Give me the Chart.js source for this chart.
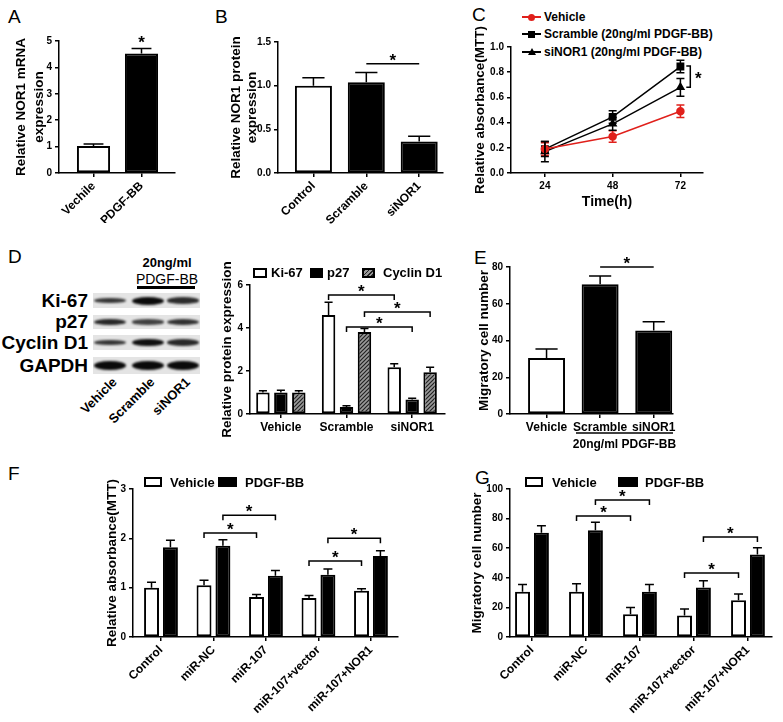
<!DOCTYPE html>
<html>
<head>
<meta charset="utf-8">
<script src="https://cdn.jsdelivr.net/npm/chart.js@4.4.1/dist/chart.umd.min.js"></script>
<style>
  body { margin: 0; width: 783px; height: 722px; position: relative; overflow: hidden; background: #fff;
         font-family: "Liberation Sans", Arial, sans-serif; color: #000; }
  canvas { position: absolute; }
  .abs { position: absolute; white-space: nowrap; }
  .letter { font-size: 19px; line-height: 19px; }
  .leg { font-weight: bold; font-size: 13px; line-height: 13px; }
  .box { position: absolute; box-sizing: border-box; border: 2px solid #000; }
  .hatch { background: repeating-linear-gradient(135deg, #222 0 1.2px, #9a9a9a 1.2px 3px); }
  .blotlab { position: absolute; font-weight: bold; font-size: 19px; line-height: 19px; text-align: right; width: 88px; left: 0; }
  .lane { position: absolute; font-weight: bold; font-size: 13px; line-height: 14px; transform-origin: 100% 50%; transform: rotate(-45deg); }
</style>
</head>
<body>

<!-- letras de panel -->
<div class="abs letter" style="left:8px;top:7px">A</div>
<div class="abs letter" style="left:215px;top:7px">B</div>
<div class="abs letter" style="left:472px;top:5px">C</div>
<div class="abs letter" style="left:8px;top:247px">D</div>
<div class="abs letter" style="left:474px;top:248px">E</div>
<div class="abs letter" style="left:8px;top:464px">F</div>
<div class="abs letter" style="left:475px;top:468px">G</div>

<!-- leyenda C -->
<div id="legC"></div>

<!-- blot D -->
<div class="abs" style="left:167px;top:255px;transform:translateX(-50%);font-weight:bold;font-size:13px">20ng/ml</div>
<div class="abs" style="left:167px;top:271px;transform:translateX(-50%);font-size:14px">PDGF-BB</div>
<div class="abs" style="left:137px;top:286px;width:58px;height:3px;background:#000"></div>
<div id="blot"></div>

<!-- leyenda D -->
<div class="box" style="left:253px;top:268px;width:14px;height:10px;background:#fff;z-index:2"></div>
<div class="abs leg" style="left:271px;top:266px;z-index:2">Ki-67</div>
<div class="box" style="left:310px;top:268px;width:13px;height:10px;background:#000;z-index:2"></div>
<div class="abs leg" style="left:327px;top:266px;z-index:2">p27</div>
<div class="box hatch" style="left:362px;top:268px;width:13px;height:10px;z-index:2"></div>
<div class="abs leg" style="left:383px;top:266px;z-index:2">Cyclin D1</div>

<!-- leyendas F y G -->
<div class="box" style="left:144px;top:477px;width:18px;height:10px;background:#fff;z-index:2"></div>
<div class="abs leg" style="left:170px;top:476px;z-index:2">Vehicle</div>
<div class="box" style="left:218px;top:477px;width:19px;height:10px;background:#000;z-index:2"></div>
<div class="abs leg" style="left:245px;top:476px;z-index:2">PDGF-BB</div>
<div class="box" style="left:525px;top:477px;width:18px;height:10px;background:#fff;z-index:2"></div>
<div class="abs leg" style="left:552px;top:476px;z-index:2">Vehicle</div>
<div class="box" style="left:618px;top:477px;width:20px;height:10px;background:#000;z-index:2"></div>
<div class="abs leg" style="left:645px;top:476px;z-index:2">PDGF-BB</div>

<script>
// ---- datos ----
// A
const aLabels = ["Vechile", "PDGF-BB"]
const aMean = [1.02, 4.53]
const aErr = [0.08, 0.19]
// B
const bLabels = ["Control", "Scramble", "siNOR1"]
const bMean = [1.0, 1.04, 0.36]
const bErr = [0.09, 0.11, 0.06]
// C
const cHours = [24, 48, 72]
const cVehicle = [0.19, 0.29, 0.49]
const cVehicleErr = [0.05, 0.045, 0.05]
const cScramble = [0.19, 0.445, 0.845]
const cScrambleErr = [0.06, 0.05, 0.05]
const cSiNOR1 = [0.17, 0.39, 0.68]
const cSiNOR1Err = [0.08, 0.05, 0.07]
// D
const dGroups = ["Vehicle", "Scramble", "siNOR1"]
const dKi67 = [1.0, 4.6, 2.18]
const dKi67Err = [0.08, 0.6, 0.16]
const dP27 = [1.0, 0.33, 0.68]
const dP27Err = [0.1, 0.05, 0.05]
const dCyclin = [1.0, 3.81, 1.94]
const dCyclinErr = [0.08, 0.17, 0.24]
const blotRows = ["Ki-67", "p27", "Cyclin D1", "GAPDH"]
const blotBands = [[0.55, 1.0, 0.65], [0.7, 0.45, 0.6], [0.55, 0.95, 0.7], [1.0, 1.0, 1.0]]
// E
const eLabels = ["Vehicle", "Scramble", "siNOR1"]
const eMean = [30.5, 70.6, 45.4]
const eErr = [4.9, 4.5, 4.8]
// F y G
const fgLabels = ["Control", "miR-NC", "miR-107", "miR-107+vector", "miR-107+NOR1"]
const fVehicle = [1.0, 1.05, 0.81, 0.79, 0.94]
const fVehicleErr = [0.11, 0.1, 0.05, 0.05, 0.04]
const fPdgf = [1.82, 1.85, 1.24, 1.26, 1.64]
const fPdgfErr = [0.14, 0.12, 0.11, 0.12, 0.11]
const gVehicle = [30.5, 30.5, 15.4, 14.5, 24.8]
const gVehicleErr = [5, 5.5, 4.6, 4.5, 4.2]
const gPdgf = [70.4, 72.2, 30.5, 33.4, 55.8]
const gPdgfErr = [4.7, 5.3, 5, 4.6, 4.5]

const FONT = '"Liberation Sans", Arial, sans-serif'
Chart.defaults.font.family = FONT
Chart.defaults.font.weight = "bold"
Chart.defaults.color = "#000"
Chart.defaults.animation = false
Chart.defaults.plugins.legend.display = false
Chart.defaults.plugins.tooltip.enabled = false

// barras de error
const errorBars = {
  id: "errorBars",
  afterDatasetsDraw(chart) {
    const ctx = chart.ctx
    const y = chart.scales.y
    const isLine = chart.config.type === "line"
    chart.data.datasets.forEach((ds, i) => {
      if (!ds.errors) return
      const meta = chart.getDatasetMeta(i)
      meta.data.forEach((el, j) => {
        const v = ds.data[j].y
        const e = ds.errors[j]
        const top = y.getPixelForValue(v + e)
        const cap = isLine ? 4 : Math.max(el.width * 0.3, 4)
        ctx.save()
        ctx.strokeStyle = isLine ? ds.borderColor : "#000"
        ctx.lineWidth = 1.5
        ctx.beginPath()
        ctx.moveTo(el.x, isLine ? y.getPixelForValue(v - e) : el.y)
        ctx.lineTo(el.x, top)
        ctx.moveTo(el.x - cap, top)
        ctx.lineTo(el.x + cap, top)
        if (isLine) {
          const bot = y.getPixelForValue(v - e)
          ctx.moveTo(el.x - cap, bot)
          ctx.lineTo(el.x + cap, bot)
        }
        ctx.stroke()
        ctx.restore()
      })
    })
  },
}

// marcas de significancia
const sigPlugin = {
  id: "sig",
  afterDraw(chart, args, opts) {
    const { ctx } = chart
    const { x, y } = chart.scales
    const pos = (p) => chart.getDatasetMeta(p[1]).data[p[0]].x
    const star = (px, py) => ctx.fillText("*", px, py)
    ctx.save()
    ctx.strokeStyle = "#000"
    ctx.fillStyle = "#000"
    ctx.lineWidth = 1.5
    ctx.font = "bold 17px " + FONT
    ctx.textAlign = "center"
    ctx.textBaseline = "middle"
    for (const m of opts.marks || []) {
      if (m.kind === "star") {
        star(pos(m.a), y.getPixelForValue(m.y) + 4)
      } else if (m.kind === "vbracket") {
        const px = x.getPixelForValue(m.x)
        const y1 = y.getPixelForValue(m.y1)
        const y2 = y.getPixelForValue(m.y2)
        ctx.beginPath()
        ctx.moveTo(px - 4, y1); ctx.lineTo(px, y1); ctx.lineTo(px, y2); ctx.lineTo(px - 4, y2)
        ctx.stroke()
        star(px + 8, (y1 + y2) / 2 + 3)
      } else if (m.kind === "under") {
        const x1 = x.getPixelForValue(m.x1)
        const x2 = x.getPixelForValue(m.x2)
        const py = chart.chartArea.bottom + m.dy
        ctx.beginPath(); ctx.moveTo(x1, py); ctx.lineTo(x2, py); ctx.stroke()
        ctx.font = "bold 12px " + FONT
        ctx.fillText(m.text, (x1 + x2) / 2, py + 12)
        ctx.font = "bold 17px " + FONT
      } else {
        const x1 = pos(m.a)
        const x2 = pos(m.b)
        const py = y.getPixelForValue(m.y)
        ctx.beginPath()
        if (m.tick) { ctx.moveTo(x1, py + 5); ctx.lineTo(x1, py); ctx.lineTo(x2, py); ctx.lineTo(x2, py + 5) }
        else { ctx.moveTo(x1, py); ctx.lineTo(x2, py) }
        ctx.stroke()
        star((x1 + x2) / 2, py - 3)
      }
    }
    ctx.restore()
  },
}

// título del eje y sin compresión (x en coordenadas de página)
const yTitle = {
  id: "yTitle",
  afterDraw(chart, args, opts) {
    if (!opts.lines) return
    const { ctx, chartArea } = chart
    const cx = opts.x - chart.canvas.offsetLeft
    const cy = (chartArea.top + chartArea.bottom) / 2
    ctx.save()
    ctx.font = "bold 13.5px " + FONT
    ctx.fillStyle = "#000"
    ctx.textAlign = "center"
    ctx.textBaseline = "middle"
    opts.lines.forEach((t, i) => {
      ctx.save()
      ctx.translate(cx + i * opts.lh, cy)
      ctx.rotate(-Math.PI / 2)
      ctx.fillText(t, 0, 0)
      ctx.restore()
    })
    ctx.restore()
  },
}

function place(left, top, width, height) {
  const c = document.createElement("canvas")
  c.width = width
  c.height = height
  c.style.left = left + "px"
  c.style.top = top + "px"
  document.body.appendChild(c)
  return c.getContext("2d")
}

function yAxis(max, step, width, fmt) {
  return {
    min: 0, max,
    ticks: { stepSize: step, font: { size: 10 }, padding: 3, callback: fmt || ((v) => v) },
    grid: { drawOnChartArea: false, tickLength: 4, color: "#000", lineWidth: 1.5 },
    border: { color: "#000", width: 1.5 },
    afterFit: (s) => { s.width = width },
  }
}

function xAxis(labels, min, max, height, rotate) {
  return {
    type: "linear", min, max, offset: false,
    afterBuildTicks: (s) => { s.ticks = labels.map((_, i) => ({ value: i + 1 })) },
    ticks: { callback: (v) => labels[v - 1], minRotation: rotate, maxRotation: rotate, autoSkip: false, font: { size: 12 }, padding: 2 },
    grid: { drawOnChartArea: false, offset: false, tickLength: 4, color: "#000", lineWidth: 1.5 },
    border: { color: "#000", width: 1.5 },
    afterFit: (s) => { s.height = height },
  }
}

function bars(label, values, errors, fill, catPct, barPct) {
  return {
    label, data: values.map((v, i) => ({ x: i + 1, y: v })), errors,
    backgroundColor: fill, borderColor: "#000", borderWidth: 2, borderSkipped: false,
    categoryPercentage: catPct, barPercentage: barPct,
  }
}

function makeChart(box, type, datasets, xOpts, yOpts, pad, title, marks) {
  const ctx = place(box[0], box[1], box[2], box[3])
  return new Chart(ctx, {
    type,
    data: { datasets },
    options: {
      responsive: false,
      devicePixelRatio: 1,
      layout: { padding: { top: pad[0], right: pad[1], left: 0, bottom: 0 } },
      scales: { x: xOpts, y: yOpts },
      plugins: { sig: { marks }, yTitle: title },
    },
    plugins: [errorBars, sigPlugin, yTitle],
  })
}

function hatchPattern() {
  const c = document.createElement("canvas")
  c.width = 4
  c.height = 4
  const g = c.getContext("2d")
  g.fillStyle = "#9a9a9a"
  g.fillRect(0, 0, 4, 4)
  g.strokeStyle = "#222"
  g.lineWidth = 1.2
  g.beginPath()
  g.moveTo(0, 4); g.lineTo(4, 0)
  g.moveTo(-1, 1); g.lineTo(1, -1)
  g.moveTo(3, 5); g.lineTo(5, 3)
  g.stroke()
  return g.createPattern(c, "repeat")
}

// A
makeChart([4, 20, 176, 203], "bar",
  [bars("A", aMean, aErr, ["#fff", "#000"], 1, 0.69)],
  xAxis(aLabels, 0.281, 2.698, 50, 45),
  yAxis(5, 1, 55),
  [21, 5], { lines: ["Relative NOR1 mRNA", "expression"], x: 21, lh: 18 },
  [{ kind: "star", a: [1, 0], y: 5.05 }])

// B
makeChart([224, 20, 226, 205], "bar",
  [bars("B", bMean, bErr, ["#fff", "#000", "#000"], 1, 0.7)],
  xAxis(bLabels, 0.33, 3.45, 52, 45),
  yAxis(1.5, 0.5, 54, (v) => v.toFixed(1)),
  [22, 7], { lines: ["Relative NOR1 protein", "expression"], x: 236, lh: 16 },
  [{ a: [1, 0], b: [2, 0], y: 1.25 }])

// C
const cPoints = (vals) => vals.map((v, i) => ({ x: cHours[i], y: v }))
makeChart([466, 20, 294, 193], "line",
  [
    { label: "Vehicle", data: cPoints(cVehicle), errors: cVehicleErr, borderColor: "#e0201b", backgroundColor: "#e0201b", pointStyle: "circle", pointRadius: 3.5, borderWidth: 1.5 },
    { label: "Scramble (20ng/ml PDGF-BB)", data: cPoints(cScramble), errors: cScrambleErr, borderColor: "#000", backgroundColor: "#000", pointStyle: "rect", pointRadius: 4.5, borderWidth: 1.5 },
    { label: "siNOR1 (20ng/ml PDGF-BB)", data: cPoints(cSiNOR1), errors: cSiNOR1Err, borderColor: "#000", backgroundColor: "#000", pointStyle: "triangle", pointRadius: 4, borderWidth: 1.5 },
  ],
  {
    type: "linear", min: 12, max: 80,
    afterBuildTicks: (s) => { s.ticks = cHours.map((h) => ({ value: h })) },
    ticks: { font: { size: 10 }, padding: 3 },
    grid: { drawOnChartArea: false, tickLength: 4, color: "#000", lineWidth: 1.5 },
    border: { color: "#000", width: 1.5 },
    title: { display: true, text: "Time(h)", font: { size: 14 }, padding: { top: 0, bottom: 2 } },
    afterFit: (s) => { s.height = 40 },
  },
  yAxis(1, 0.2, 45, (v) => v.toFixed(1)),
  [27, 57], { lines: ["Relative absorbance(MTT)"], x: 480, lh: 0 },
  [{ kind: "vbracket", x: 75.5, y1: 0.85, y2: 0.68 }])

// leyenda C
const legC = document.getElementById("legC")
const cLegend = [
  ["Vehicle", "#e0201b", "circle"],
  ["Scramble (20ng/ml PDGF-BB)", "#000", "rect"],
  ["siNOR1 (20ng/ml PDGF-BB)", "#000", "triangle"],
]
cLegend.forEach(([name, color, shape], i) => {
  const cy = [17, 34, 52][i]
  let marker
  if (shape === "circle") marker = `<div class="abs" style="left:528px;top:${cy - 3.5}px;width:7px;height:7px;border-radius:50%;background:${color}"></div>`
  else if (shape === "rect") marker = `<div class="abs" style="left:528px;top:${cy - 3.5}px;width:7px;height:7px;background:${color}"></div>`
  else marker = `<div class="abs" style="left:528px;top:${cy - 4}px;width:0;height:0;border-left:4px solid transparent;border-right:4px solid transparent;border-bottom:7px solid ${color}"></div>`
  legC.innerHTML += `<div class="abs" style="left:522px;top:${cy - 0.75}px;width:19px;height:1.5px;background:${color}"></div>${marker}
    <div class="abs" style="left:544px;top:${cy - 7}px;font-weight:bold;font-size:12px;line-height:14px">${name}</div>`
})

// blot
const blot = document.getElementById("blot")
const rowTop = [293, 315, 335, 357]
const rowH = [15, 14, 15, 17]
const laneX = [110, 148, 183]
blotRows.forEach((name, r) => {
  const cy = rowTop[r] + rowH[r] / 2
  blot.innerHTML += `<div class="blotlab" style="top:${cy - 10}px">${name}</div>`
  let bands = ""
  blotBands[r].forEach((s, l) => {
    const h = r === 3 ? 9 : 3 + s * 5
    bands += `<div class="abs" style="left:${laneX[l] - 93 - 16}px;top:${rowH[r] / 2 - h / 2}px;width:32px;height:${h}px;border-radius:50%;background:rgba(10,10,10,${0.55 + 0.45 * s});filter:blur(1px)"></div>`
  })
  blot.innerHTML += `<div class="abs" style="left:93px;top:${rowTop[r]}px;width:107px;height:${rowH[r]}px;background:#e4e4e4;overflow:hidden">${bands}</div>`
})
dGroups.forEach((name, l) => {
  blot.innerHTML += `<div class="lane" style="right:${783 - laneX[l] - 5}px;top:373px">${name}</div>`
})

// D
const hatch = hatchPattern()
makeChart([215, 250, 235, 196], "bar",
  [
    bars("Ki-67", dKi67, dKi67Err, "#fff", 0.82, 0.75),
    bars("p27", dP27, dP27Err, "#000", 0.82, 0.75),
    bars("Cyclin D1", dCyclin, dCyclinErr, hatch, 0.82, 0.75),
  ],
  xAxis(dGroups, 0.53, 3.5, 32, 0),
  yAxis(6, 2, 35),
  [35, 5], { lines: ["Relative protein expression"], x: 227, lh: 0 },
  [
    { a: [1, 0], b: [2, 0], y: 5.53, tick: true },
    { a: [1, 2], b: [2, 2], y: 4.74, tick: true },
    { a: [1, 1], b: [2, 1], y: 4.05, tick: true },
  ])

// E
makeChart([474, 245, 216, 211], "bar",
  [bars("E", eMean, eErr, ["#fff", "#000", "#000"], 1, 0.69)],
  xAxis(eLabels, 0.318, 3.36, 42, 0),
  yAxis(80, 20, 36),
  [22, 17], { lines: ["Migratory cell number"], x: 484, lh: 0 },
  [
    { a: [1, 0], b: [2, 0], y: 80 },
    { kind: "under", x1: 1.55, x2: 3.36, dy: 19, text: "20ng/ml PDGF-BB" },
  ])

// F
makeChart([100, 468, 305, 254], "bar",
  [
    bars("Vehicle", fVehicle, fVehicleErr, "#fff", 0.72, 0.79),
    bars("PDGF-BB", fPdgf, fPdgfErr, "#000", 0.72, 0.79),
  ],
  xAxis(fgLabels, 0.467, 5.515, 85, 45),
  yAxis(3, 1, 33),
  [21, 7], { lines: ["Relative absorbance(MTT)"], x: 112, lh: 0 },
  [
    { a: [1, 1], b: [2, 1], y: 2.47, tick: true },
    { a: [1, 0], b: [2, 0], y: 2.11, tick: true },
    { a: [3, 1], b: [4, 1], y: 2.0, tick: true },
    { a: [3, 0], b: [4, 0], y: 1.54, tick: true },
  ])

// G
makeChart([465, 468, 315, 254], "bar",
  [
    bars("Vehicle", gVehicle, gVehicleErr, "#fff", 0.7, 0.79),
    bars("PDGF-BB", gPdgf, gPdgfErr, "#000", 0.7, 0.79),
  ],
  xAxis(fgLabels, 0.593, 5.445, 85, 45),
  yAxis(100, 20, 45),
  [21, 8], { lines: ["Migratory cell number"], x: 477, lh: 0 },
  [
    { a: [1, 1], b: [2, 1], y: 92.6, tick: true },
    { a: [1, 0], b: [2, 0], y: 81.8, tick: true },
    { a: [3, 1], b: [4, 1], y: 67.6, tick: true },
    { a: [3, 0], b: [4, 0], y: 43.2, tick: true },
  ])
</script>
</body>
</html>
